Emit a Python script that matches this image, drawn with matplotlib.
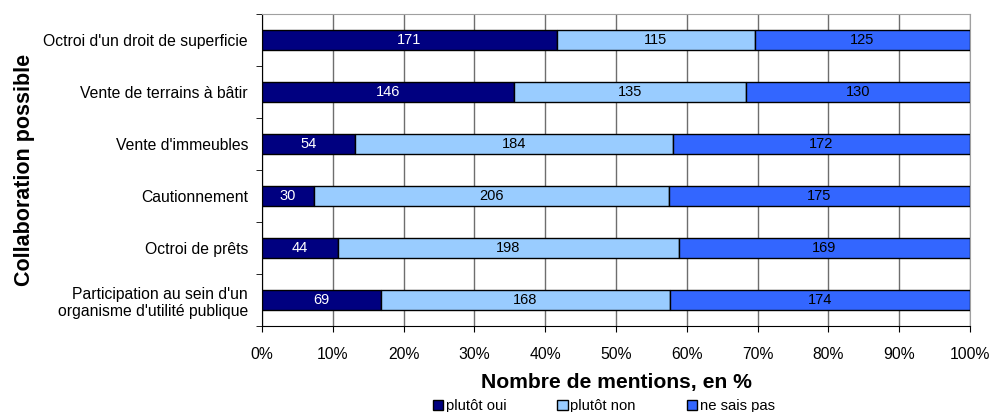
import matplotlib.pyplot as plt
import numpy as np

plt.rcParams['font.family'] = ['Liberation Sans', 'DejaVu Sans']

categories = [
    "Octroi d'un droit de superficie",
    "Vente de terrains à bâtir",
    "Vente d'immeubles",
    "Cautionnement",
    "Octroi de prêts",
    "Participation au sein d'un\norganisme d'utilité publique",
]
plutot_oui = [171, 146, 54, 30, 44, 69]
plutot_non = [115, 135, 184, 206, 198, 168]
ne_sais_pas = [125, 130, 172, 175, 169, 174]

series_names = ["plutôt oui", "plutôt non", "ne sais pas"]
colors = ['#000080', '#99CCFF', '#3366FF']
text_colors = ['white', 'black', 'black']

counts = np.array([plutot_oui, plutot_non, ne_sais_pas], dtype=float)
pct = counts / counts.sum(axis=0) * 100

fig = plt.figure(figsize=(9.93, 4.12), dpi=100)
ax = fig.add_axes([262 / 993, 1 - 326 / 412, 708 / 993, 312 / 412])

y = np.arange(len(categories))
left = np.zeros(len(categories))
for i in range(3):
    ax.barh(y, pct[i], left=left, height=0.4, color=colors[i],
            edgecolor='black', linewidth=1, label=series_names[i], zorder=3)
    for j in range(len(categories)):
        ax.text(left[j] + pct[i][j] / 2, y[j], f'{int(counts[i][j])}',
                ha='center', va='center', fontsize=10.5, color=text_colors[i], zorder=4)
    left += pct[i]

ax.set_xlim(0, 100)
ax.set_ylim(len(categories) - 0.5, -0.5)
ax.set_xticks(np.arange(0, 101, 10))
ax.set_xticklabels([f'{v}%' for v in range(0, 101, 10)], fontsize=11.3)
ax.tick_params(axis='x', length=4, pad=11, direction='out')

ax.set_yticks(y)
ax.set_yticklabels(categories, fontsize=11.3)
ax.tick_params(axis='y', length=0, pad=10)
ax.set_yticks(np.arange(-0.5, len(categories)), minor=True)
ax.tick_params(axis='y', which='minor', length=4, direction='out')

ax.grid(axis='x', color='#6e6e6e', linewidth=1, zorder=0)
ax.set_axisbelow(True)
for side in ['top', 'right']:
    ax.spines[side].set_color('#a0a0a0')
ax.spines['left'].set_color('black')
ax.spines['bottom'].set_color('black')

ax.set_xlabel('Nombre de mentions, en %', fontsize=15.2, fontweight='bold', labelpad=8)
ax.set_ylabel('Collaboration possible', fontsize=15.5, fontweight='bold', labelpad=6)

fig.legend(loc='lower center', bbox_to_anchor=(0.608, -0.035), ncol=3, frameon=False,
           fontsize=10.7, handlelength=0.7, handleheight=0.7, handletextpad=0.2,
           columnspacing=3.4)

plt.savefig('out.png', dpi=100)
plt.close()
